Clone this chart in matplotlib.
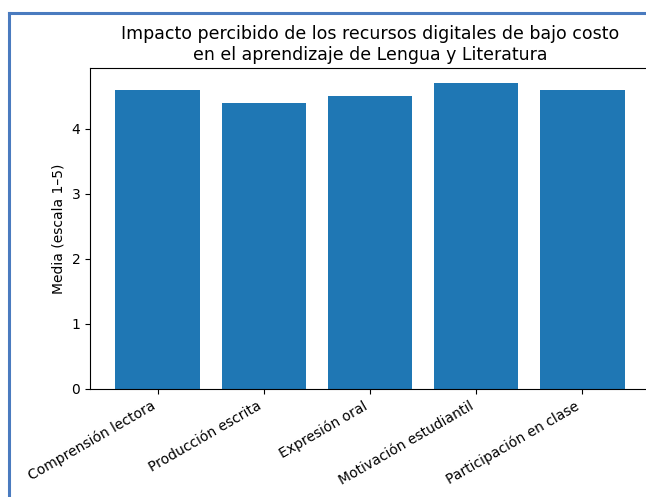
import matplotlib
matplotlib.use('Agg')
import matplotlib.pyplot as plt
from matplotlib.lines import Line2D

categorias = ['Comprensión lectora', 'Producción escrita', 'Expresión oral',
              'Motivación estudiantil', 'Participación en clase']
medias = [4.6, 4.4, 4.5, 4.7, 4.6]

W, H = 646, 497
fig = plt.figure(figsize=(W / 100, H / 100), dpi=100)
# axes placed as in the screenshot (right edge is cut off)
ax = fig.add_axes([90 / W, 1 - 389 / H, 560 / W, (389 - 68) / H])

ax.bar(categorias, medias, color='#1f77b4')
ax.set_ylabel('Media (escala 1–5)')
ax.set_title('Impacto percibido de los recursos digitales de bajo costo\n'
             'en el aprendizaje de Lengua y Literatura', fontsize=12.5)
plt.setp(ax.get_xticklabels(), rotation=30, ha='right')

# screenshot frame (blue border top and left)
bx, by = 8.5 / W, 1 - 12.5 / H
fig.add_artist(Line2D([bx, bx], [0, by], transform=fig.transFigure,
                      color='#4a7bbf', lw=2.2))
fig.add_artist(Line2D([bx, 1], [by, by], transform=fig.transFigure,
                      color='#4a7bbf', lw=2.2))

fig.savefig('out.png', dpi=100)
